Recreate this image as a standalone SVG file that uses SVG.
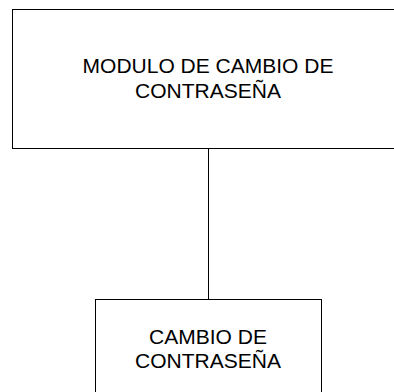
<svg xmlns="http://www.w3.org/2000/svg" width="394" height="392" viewBox="0 0 394 392">
<style>
.box{fill:#fff;stroke:#000;stroke-width:1}
.lbl{font-family:"Liberation Sans",Arial,sans-serif;font-size:21px;fill:#000;text-anchor:middle}
.conn{stroke:#000;stroke-width:1;fill:none}
</style>
<rect width="394" height="392" fill="#fff"/>
<g id="connectors">
<line class="conn" x1="208.5" y1="148.5" x2="208.5" y2="299.5"/>
</g>
<g id="node-modulo">
<rect class="box" x="12.5" y="9.5" width="400" height="139"/>
<text class="lbl" x="208" y="73">MODULO DE CAMBIO DE</text>
<text class="lbl" x="208" y="98">CONTRASEÑA</text>
</g>
<g id="node-cambio">
<rect class="box" x="95.5" y="299.5" width="226" height="120"/>
<text class="lbl" x="208" y="344">CAMBIO DE</text>
<text class="lbl" x="208" y="368">CONTRASEÑA</text>
</g>
</svg>
